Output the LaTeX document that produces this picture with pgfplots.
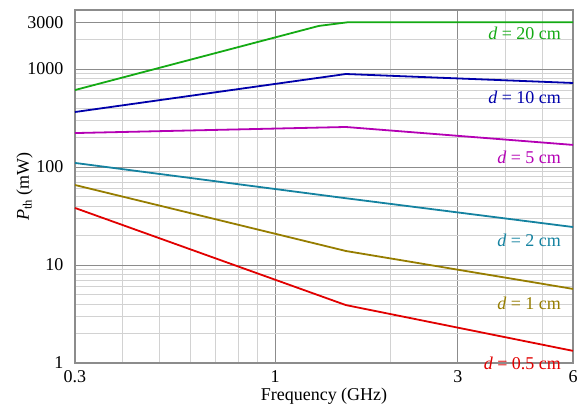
\documentclass[border=0pt]{standalone}
\usepackage{pgfplots}
\pgfplotsset{compat=1.18}
\usepackage{fontspec}
\setmainfont{Liberation Serif}
\definecolor{cgreen}{RGB}{20,170,20}
\definecolor{cblue}{RGB}{0,0,170}
\definecolor{cmag}{RGB}{180,0,180}
\definecolor{cteal}{RGB}{20,130,160}
\definecolor{colive}{RGB}{150,125,0}
\definecolor{cred}{RGB}{225,0,0}
\definecolor{majg}{RGB}{140,140,140}
\definecolor{ming}{RGB}{210,210,210}
\begin{document}
\begin{tikzpicture}[font=\fontsize{18}{21}\selectfont]
\useasboundingbox (-75pt,-43pt) rectangle (503pt,363pt);
\begin{axis}[
  scale only axis, width=498pt, height=353pt,
  xmode=log, ymode=log,
  xmin=0.3, xmax=6, ymin=1, ymax=4000,
  xtick={0.3,1,3,6}, xticklabels={0.3,1,3,6},
  minor xtick={0.4,0.5,0.6,0.7,0.8,0.9,2,4,5},
  ytick={1,10,100,1000,3000}, yticklabels={1,10,100,1000,3000},
  minor ytick={2,3,4,5,6,7,8,9,20,30,40,50,60,70,80,90,200,300,400,500,600,700,800,900,2000,4000},
  grid=both,
  major grid style={majg, line width=0.9pt},
  minor grid style={ming, line width=0.9pt},
  axis line style={majg, line width=1.2pt},
  major tick length=0pt, minor tick length=0pt,
  tick label style={font=\fontsize{18}{21}\selectfont},
  xticklabel style={yshift=-4pt},
  yticklabel style={xshift=-8pt},
  xlabel={Frequency (GHz)},
  ylabel={\textit{P}\textsubscript{th} (mW)},
  xlabel style={yshift=2pt},
  ylabel style={yshift=-12pt},
  every axis plot/.style={line width=1.8pt},
  clip=false,
]
\addplot[cgreen] coordinates {(0.3,610) (1.3,2750) (1.55,3000) (6,3000)};
\addplot[cblue] coordinates {(0.3,364) (1.53,889) (6,720)};
\addplot[cmag] coordinates {(0.3,222) (1.53,256) (6,168)};
\addplot[cteal] coordinates {(0.3,110) (1.53,48) (6,24.4)};
\addplot[colive] coordinates {(0.3,65.5) (1.53,13.9) (6,5.7)};
\addplot[cred] coordinates {(0.3,38.2) (1.53,3.9) (6,1.33)};
\node[anchor=east, text=cgreen] at (axis cs:5.7,2330) {\textit{d} = 20 cm};
\node[anchor=east, text=cblue] at (axis cs:5.7,518) {\textit{d} = 10 cm};
\node[anchor=east, text=cmag] at (axis cs:5.7,124) {\textit{d} = 5 cm};
\node[anchor=east, text=cteal] at (axis cs:5.7,18) {\textit{d} = 2 cm};
\node[anchor=east, text=colive] at (axis cs:5.7,4.1) {\textit{d} = 1 cm};
\node[anchor=east, text=cred] at (axis cs:5.7,0.98) {\textit{d} = 0.5 cm};
\end{axis}
\end{tikzpicture}
\end{document}
